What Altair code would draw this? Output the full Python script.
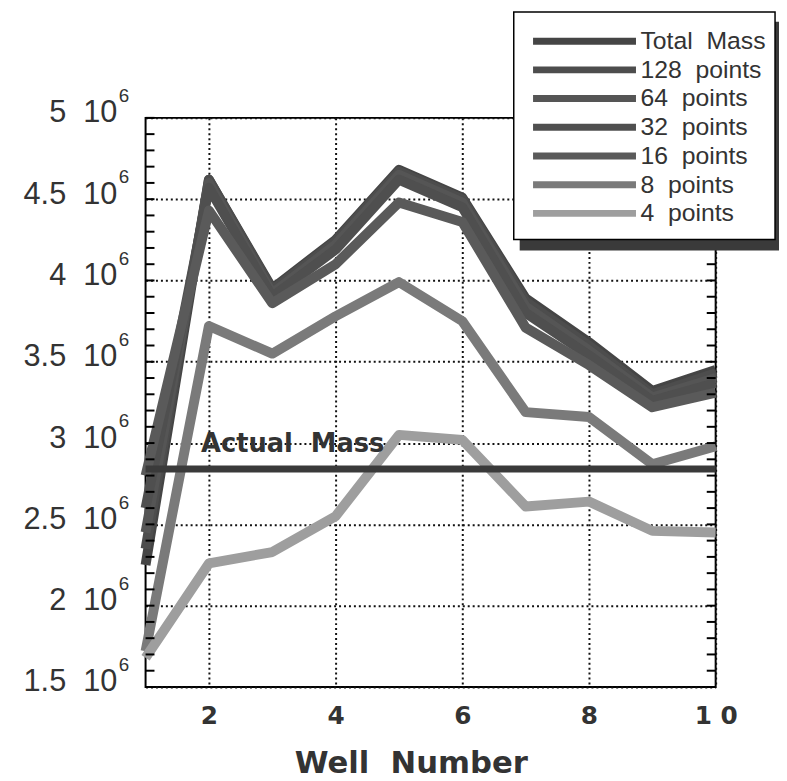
import altair as alt
import pandas as pd
import numpy as np

# ---- data (values in units of 10^6) ----
WELLS = [1, 2, 3, 4, 5, 6, 7, 8, 9, 10]
SERIES = ["Total\u00a0 Mass", "128\u00a0 points", "64\u00a0 points", "32\u00a0 points",
          "16\u00a0 points", "8\u00a0 points", "4\u00a0 points"]
TOTAL_MASS = [2.25, 4.62, 3.95, 4.25, 4.68, 4.51, 3.89, 3.62, 3.32, 3.45]
P128 = [2.35, 4.62, 3.94, 4.24, 4.67, 4.50, 3.87, 3.60, 3.30, 3.43]
P64 = [2.45, 4.60, 3.92, 4.22, 4.65, 4.48, 3.84, 3.57, 3.28, 3.40]
P32 = [2.60, 4.57, 3.90, 4.19, 4.62, 4.45, 3.80, 3.54, 3.26, 3.37]
P16 = [2.80, 4.43, 3.86, 4.10, 4.48, 4.36, 3.71, 3.48, 3.22, 3.31]
P8 = [1.72, 3.72, 3.55, 3.78, 3.99, 3.75, 3.19, 3.16, 2.87, 2.98]
P4 = [1.68, 2.26, 2.33, 2.55, 3.05, 3.02, 2.61, 2.64, 2.46, 2.45]
ACTUAL_MASS = 2.84
ACTUAL_LABEL = "Actual\u00a0 Mass"
Y_LABELS = [1.5, 2.0, 2.5, 3.0, 3.5, 4.0, 4.5, 5.0]
X_LABELS = [2, 4, 6, 8, 10]
X_TITLE = "Well\u00a0 Number"
SCALE = 1e6

COLORS = ["#454545", "#4d4d4d", "#555555", "#4f4f4f", "#5a5a5a", "#7a7a7a", "#9e9e9e"]

rows = []
for name, vals in zip(SERIES, [TOTAL_MASS, P128, P64, P32, P16, P8, P4]):
    for w, v in zip(WELLS, vals):
        rows.append({"well": w, "mass": v * SCALE, "series": name})
df = pd.DataFrame(rows)

FONT = "Liberation Sans"
BFONT = "DejaVu Sans"
TXT = "#333333"

x_enc = alt.X(
    "well:Q",
    scale=alt.Scale(domain=[1, 10], nice=False, zero=False),
    axis=alt.Axis(
        values=X_LABELS, labelExpr="datum.value == 10 ? '1\u00a00' : datum.label",
        ticks=False, domain=False, grid=True, gridDash=[2, 3], gridColor="#111111",
        gridWidth=2, labelFont=BFONT, labelFontWeight="bold", labelFontSize=25,
        labelColor=TXT, labelPadding=17, labelFlush=False, title=X_TITLE,
        titleFont=BFONT, titleFontWeight="bold", titleFontSize=31, titleColor=TXT,
        titleX=268, titleY=86, titleAlign="center", titleBaseline="alphabetic",
    ),
)
y_scale = alt.Scale(domain=[1.5 * SCALE, 5.0 * SCALE], nice=False, zero=False)
y_axis = alt.Axis(
    values=[v * SCALE for v in Y_LABELS],
    labelExpr="format(datum.value / 1000000, '~g') + '\u00a0 10'",
    ticks=False, domain=False, grid=True, gridDash=[2, 3], gridColor="#111111",
    gridWidth=2, labelFont=FONT, labelFontSize=31, labelColor=TXT,
    labelPadding=29, labelOffset=-5, labelFlush=False, title=None,
)


def y_enc(field):
    return alt.Y(field, scale=y_scale, axis=y_axis, title=None)


lines = alt.Chart(df).mark_line(strokeWidth=10, strokeJoin="round").encode(
    x=x_enc, y=y_enc("mass:Q"),
    color=alt.Color(
        "series:N", scale=alt.Scale(domain=SERIES, range=COLORS), sort=SERIES,
        legend=alt.Legend(
            title=None, orient="none", legendX=387, legendY=-90,
            symbolType="M-1,0H12", symbolSize=256, symbolStrokeWidth=7,
            labelOffset=88, labelFontSize=25, labelFont=FONT, labelColor=TXT,
            rowPadding=0, padding=0, labelLimit=400, symbolOpacity=1,
        ),
    ),
)

actual_df = pd.DataFrame({"mass": [ACTUAL_MASS * SCALE], "label": [ACTUAL_LABEL]})
actual_rule = alt.Chart(actual_df).mark_rule(strokeWidth=7, color="#3a3a3a").encode(
    y=y_enc("mass:Q")
)
actual_text = alt.Chart(actual_df).mark_text(
    align="left", baseline="alphabetic", dy=-17, font=BFONT, fontWeight="bold",
    fontSize=26, color=TXT,
).encode(y=y_enc("mass:Q"), x=alt.value(56), text="label:N")

tick_df = pd.DataFrame({"mass": np.round(np.arange(15, 51) / 10 * SCALE)})
ticks_left = alt.Chart(tick_df).mark_rule(color="black", strokeWidth=2).encode(
    y=y_enc("mass:Q"), x=alt.value(0), x2=alt.value(9)
)
ticks_right = alt.Chart(tick_df).mark_rule(color="black", strokeWidth=2).encode(
    y=y_enc("mass:Q"), x=alt.value(567), x2=alt.value(576)
)

sup_df = pd.DataFrame({"mass": [v * SCALE for v in Y_LABELS], "s": ["6"] * len(Y_LABELS)})
sups = alt.Chart(sup_df).mark_text(
    align="left", baseline="middle", dy=-22, font=FONT, fontSize=19, color=TXT
).encode(y=y_enc("mass:Q"), x=alt.value(-27), text="s:N")

one = alt.Data(values=[{"a": 1}])
shadow = alt.Chart(one).mark_rect(color="#3a3a3a").encode(
    x=alt.value(378), x2=alt.value(646), y=alt.value(-97), y2=alt.value(134)
)
box = alt.Chart(one).mark_rect(fill="white", stroke="black", strokeWidth=1.5).encode(
    x=alt.value(372), x2=alt.value(636), y=alt.value(-107), y2=alt.value(123)
)

chart = alt.layer(
    lines, actual_rule, actual_text, ticks_left, ticks_right, sups, shadow, box
).properties(
    width=576, height=575,
    autosize=alt.AutoSizeParams(type="none"),
    padding={"left": 139, "top": 107, "right": 64, "bottom": 91},
).configure_view(stroke="black", strokeWidth=2)

chart.save("out.html", embed_options={"renderer": "svg", "actions": False})
